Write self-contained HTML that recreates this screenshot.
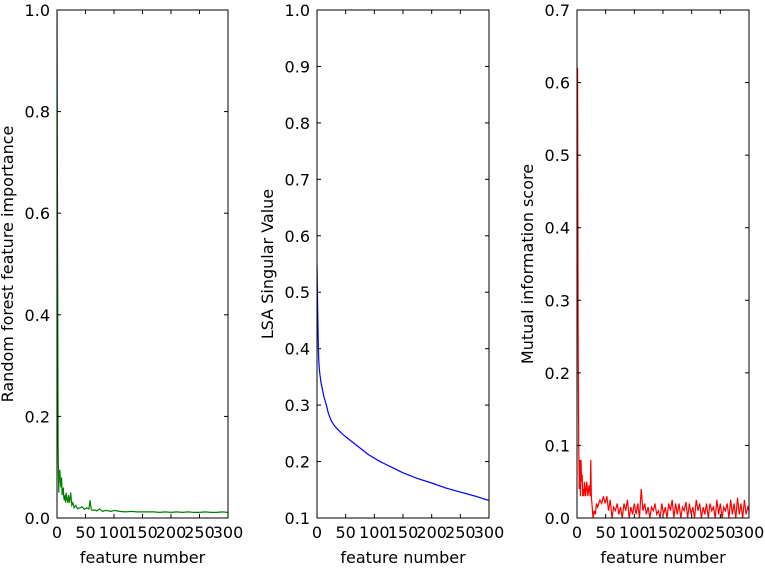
<!DOCTYPE html>
<html><head><meta charset="utf-8"><style>
body{margin:0;background:#fff;}
svg text{font-family:"DejaVu Sans","Liberation Sans",sans-serif;fill:#000;}
</style></head><body>
<svg id="chart" width="765" height="568" xmlns="http://www.w3.org/2000/svg"></svg>
<script>
const rfX=[0,1,2,3,4,5,6,7,8,9,10,11,12,13,14,15,16,17,18,19,20,22,24,26,28,30,33,36,40,44,48,52,56,58,60,62,66,70,75,80,85,90,95,100,110,120,130,140,150,160,170,180,190,200,210,220,230,240,250,260,270,280,290,300];
const rfY=[1.0,0.55,0.14,0.05,0.09,0.095,0.07,0.06,0.08,0.045,0.05,0.06,0.04,0.035,0.045,0.03,0.05,0.04,0.035,0.03,0.045,0.03,0.05,0.025,0.03,0.02,0.025,0.018,0.02,0.022,0.017,0.02,0.018,0.035,0.017,0.015,0.016,0.014,0.018,0.013,0.015,0.014,0.013,0.015,0.013,0.012,0.013,0.012,0.012,0.012,0.012,0.011,0.012,0.011,0.012,0.011,0.012,0.011,0.011,0.012,0.011,0.011,0.012,0.011];
const lsaX=[0,1,2,3,4,5,7,10,12,15,20,25,30,35,45,55,70,90,110,130,150,175,200,225,250,275,300];
const lsaY=[0.55,0.48,0.42,0.38,0.365,0.355,0.34,0.325,0.315,0.305,0.285,0.272,0.264,0.258,0.248,0.24,0.228,0.212,0.2,0.19,0.18,0.17,0.162,0.153,0.146,0.139,0.131];
const miX=[0,1,2,3,4,5,6,7,8,9,10,11,12,13,14,15,17,19,21,23,24,25,26,27,28,30,32,34,36,38,40,43,46,49,52,55,58,61,64,67,70,73,76,79,82,85,88,91,94,97,100,103,106,109,112,115,118,121,124,127,130,133,136,139,142,145,148,151,154,157,160,163,166,169,172,175,178,181,184,187,190,193,196,199,202,205,208,211,214,217,220,223,226,229,232,235,238,241,244,247,250,253,256,259,262,265,268,271,274,277,280,283,286,289,292,295,298,300];
const miY=[0.35,0.62,0.25,0.1,0.04,0.08,0.03,0.08,0.05,0.06,0.03,0.04,0.03,0.05,0.04,0.03,0.05,0.03,0.045,0.03,0.08,0.03,0.02,0.01,0.0,0.01,0.005,0.02,0.015,0.02,0.025,0.02,0.03,0.02,0.03,0.01,0.025,0.0,0.015,0.01,0.02,0.005,0.015,0.0,0.02,0.01,0.025,0.0,0.015,0.005,0.02,0.005,0.02,0.0,0.04,0.01,0.02,0.005,0.015,0.0,0.015,0.01,0.02,0.005,0.01,0.0,0.02,0.005,0.015,0.0,0.02,0.01,0.025,0.0,0.02,0.005,0.02,0.0,0.015,0.01,0.022,0.0,0.02,0.005,0.015,0.0,0.025,0.01,0.02,0.0,0.015,0.005,0.02,0.0,0.02,0.01,0.015,0.0,0.025,0.005,0.02,0.0,0.015,0.01,0.02,0.0,0.025,0.005,0.02,0.0,0.028,0.005,0.02,0.0,0.025,0.005,0.015,0.01];
const xTicks=[0,50,100,150,200,250,300];
const p1Ticks=[0.0,0.2,0.4,0.6,0.8,1.0];
const p2Ticks=[0.1,0.2,0.3,0.4,0.5,0.6,0.7,0.8,0.9,1.0];
const p3Ticks=[0.0,0.1,0.2,0.3,0.4,0.5,0.6,0.7];

const svg=document.getElementById('chart');
const NS='http://www.w3.org/2000/svg';
function mk(tag,attrs,parent){const e=document.createElementNS(NS,tag);for(const k in attrs)e.setAttribute(k,attrs[k]);(parent||svg).appendChild(e);return e;}
const plotTop=10,plotBot=518;
function panel(name,left,right,ymin,ymax,ticks,xs,ys,color,ylabel){
  const g=mk('g',{});
  
  
  const sx=v=>left+(v/300)*(right-left);
  const sy=v=>plotBot-(v-ymin)/(ymax-ymin)*(plotBot-plotTop);
  let d='';
  xs.forEach((x,i)=>{d+=(i?'L':'M')+sx(x).toFixed(2)+' '+sy(ys[i]).toFixed(2);});
  const clip=mk('clipPath',{id:'c'+name},g);mk('rect',{x:left,y:plotTop,width:right-left,height:plotBot-plotTop},clip);
  const line=mk('path',{d:d,fill:'none',stroke:color,'stroke-width':1.2,'clip-path':'url(#c'+name+')'},g);
  
  
  const frame=mk('rect',{x:left,y:plotTop,width:right-left,height:plotBot-plotTop,fill:'none',stroke:'#000','stroke-width':1},g);
  
  
  xTicks.forEach(t=>{const x=sx(t);
    mk('line',{x1:x,x2:x,y1:plotBot,y2:plotBot-4,stroke:'#000'},g);mk('line',{x1:x,x2:x,y1:plotTop,y2:plotTop+4,stroke:'#000'},g);
    const tx=mk('text',{x:x,y:plotBot+20,'font-size':16,'text-anchor':'middle'},g);tx.textContent=t;
    
    
  });
  ticks.forEach(t=>{const y=sy(t);
    mk('line',{x1:left,x2:left+4,y1:y,y2:y,stroke:'#000'},g);mk('line',{x1:right,x2:right-4,y1:y,y2:y,stroke:'#000'},g);
    const tx=mk('text',{x:left-7,y:y+6,'font-size':16,'text-anchor':'end'},g);tx.textContent=t.toFixed(1);
    
    
  });
  const xl=mk('text',{x:(left+right)/2,y:563,'font-size':16,'text-anchor':'middle'},g);xl.textContent='feature number';
  
  
  const yx=left-44;
  const yl=mk('text',{x:yx,y:(plotTop+plotBot)/2,'font-size':16,'text-anchor':'middle',transform:'rotate(-90 '+yx+' '+((plotTop+plotBot)/2)+')'},g);yl.textContent=ylabel;
  
  
}
panel('random-forest',57,228,0,1.0,p1Ticks,rfX,rfY,'#008000','Random forest feature importance');
panel('lsa',317,489,0.1,1.0,p2Ticks,lsaX,lsaY,'#0000ff','LSA Singular Value');
panel('mutual-info',577,749,0,0.7,p3Ticks,miX,miY,'#ff0000','Mutual information score');
</script>
</body></html>
